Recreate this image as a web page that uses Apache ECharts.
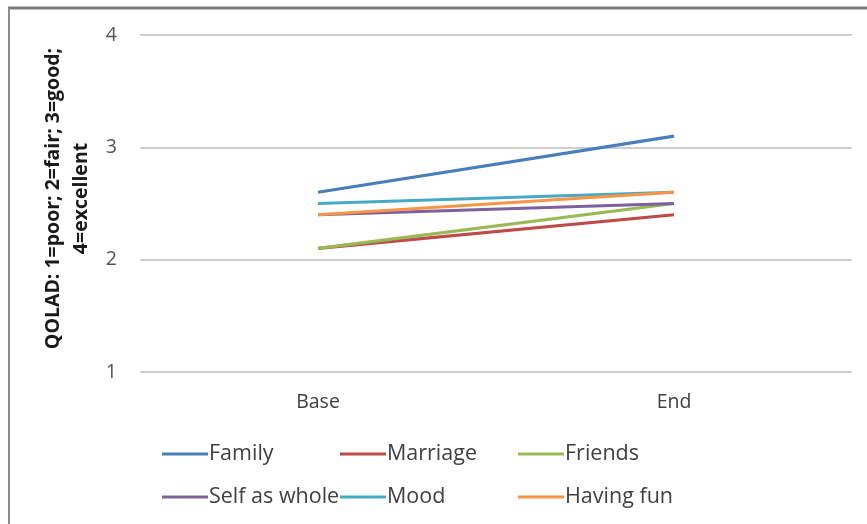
<!DOCTYPE html>
<html><head><meta charset="utf-8">
<script src="https://cdn.jsdelivr.net/npm/echarts@6/dist/echarts.min.js"></script>
<style>html,body{margin:0;padding:0;background:#fff}#c{width:867px;height:524px}</style>
</head><body><div id="c"></div>
<script>
const categories = ['Base', 'End'];
const seriesNames = ['Family', 'Marriage', 'Friends', 'Self as whole', 'Mood', 'Having fun'];
const family = [2.6, 3.1];
const marriage = [2.1, 2.4];
const friends = [2.1, 2.5];
const selfAsWhole = [2.4, 2.5];
const mood = [2.5, 2.6];
const havingFun = [2.4, 2.6];
const yTicks = [1, 2, 3, 4];
const yTitle = 'QOLAD: 1=poor; 2=fair; 3=good;\n4=excellent';

const values = [family, marriage, friends, selfAsWhole, mood, havingFun];
const colors = ['#4a7ebb', '#be4b48', '#98b954', '#7d60a0', '#46aac5', '#f79646'];
const font = '"Open Sans", Lato, sans-serif';

const legendPos = [[162, 443], [340, 443], [518, 443], [162, 486], [340, 486], [518, 486]];
const legends = seriesNames.map((n, i) => ({
  data: [{name: n, icon: 'rect'}], left: legendPos[i][0], top: legendPos[i][1],
  itemWidth: 46, itemHeight: 3, itemGap: 0, padding: 0,
  textStyle: {fontFamily: font, fontSize: 21.5, color: '#404040', padding: [0, 0, 0, -4]}
}));

const chart = echarts.init(document.getElementById('c'), null, {renderer: 'canvas'});
chart.setOption({
  animation: false,
  color: colors,
  grid: {left: 140, right: 15, top: 35, bottom: 152, containLabel: false},
  legend: legends,
  graphic: [
    {type: 'line', shape: {x1: 8, y1: 8, x2: 867, y2: 8}, style: {stroke: '#7a7a7a', lineWidth: 3}},
    {type: 'line', shape: {x1: 9, y1: 8, x2: 9, y2: 524}, style: {stroke: '#8a8a8a', lineWidth: 2}}
  ],
  xAxis: {
    type: 'category', data: categories, boundaryGap: true,
    axisLine: {show: false}, axisTick: {show: false},
    axisLabel: {fontFamily: font, fontSize: 19.5, color: '#404040', margin: 20}
  },
  yAxis: {
    type: 'value', min: yTicks[0], max: yTicks[yTicks.length - 1], interval: 1,
    name: yTitle, nameLocation: 'middle', nameRotate: 90, nameGap: 34,
    nameTextStyle: {fontFamily: font, fontSize: 19.5, fontWeight: 'bold', color: '#1a1a1a', lineHeight: 28, align: 'center', padding: [0, 0, 0, 10]},
    axisLine: {show: false}, axisTick: {show: false},
    axisLabel: {fontFamily: font, fontSize: 19.5, color: '#555', margin: 23},
    splitLine: {lineStyle: {color: '#cfcfcf', width: 2}}
  },
  series: seriesNames.map((n, i) => ({
    name: n, type: 'line', data: values[i], symbol: 'none',
    lineStyle: {width: 3.2, color: colors[i]}, itemStyle: {color: colors[i]}
  }))
});
</script></body></html>
